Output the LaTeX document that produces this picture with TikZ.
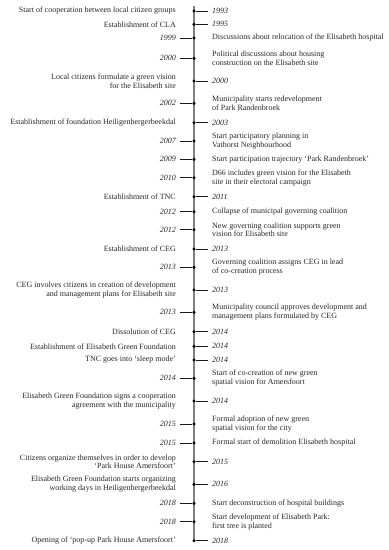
\documentclass[tikz,border=0pt]{standalone}
\usepackage{fontspec}
\setmainfont{Liberation Serif}
\usepackage{tikz}
\usetikzlibrary{arrows.meta, positioning}

% event with text on the left, year on the right
\newcommand{\evtleft}[4]{%
  \node[dot] (d#1) at (194,-#2) {};
  \coordinate (t#1) at (208,-#2);
  \draw[tick] (d#1) -- (t#1);
  \node[year, anchor=west] (yr#1) at (212,-#2) {#3};
  \node[event, anchor=east, align=right] (tx#1) at (176,-#2) {#4};
}
% event with year on the left, text on the right
\newcommand{\evtright}[4]{%
  \node[dot] (d#1) at (194,-#2) {};
  \coordinate (t#1) at (180,-#2);
  \draw[tick] (d#1) -- (t#1);
  \node[year, anchor=east] (yr#1) at (176,-#2) {#3};
  \node[event, anchor=west, align=left] (tx#1) at (212,-#2) {#4};
}

\begin{document}
\begin{tikzpicture}[
      x=1pt, y=1pt,
      axis/.style={line width=1.3pt, black!50},
      dot/.style={circle, fill=black, inner sep=0pt, minimum size=3.4pt},
      tick/.style={line width=0.9pt, black!90},
      event/.style={inner sep=0pt, font=\fontsize{8}{8.7}\selectfont, text=black!85},
      year/.style={inner sep=0pt, font=\fontsize{8}{8.7}\selectfont\itshape, text=black!85}
    ]
    \useasboundingbox (0,0) rectangle (389,-550);
    \coordinate (top) at (194,-6);
    \coordinate (bottom) at (194,-541);
    \draw[axis] (top) -- (bottom);
    \evtleft{1}{11}{1993}{Start of cooperation between local citizen groups}
    \evtleft{2}{24.3}{1995}{Establishment of CLA}
    \evtright{3}{38}{1999}{Discussions about relocation of the Elisabeth hospital}
    \evtright{4}{58.3}{2000}{Political discussions about housing\\construction on the Elisabeth site}
    \evtleft{5}{81}{2000}{Local citizens formulate a green vision\\for the Elisabeth site}
    \evtright{6}{103.3}{2002}{Municipality starts redevelopment\\of Park Randenbroek}
    \evtleft{7}{122.7}{2003}{Establishment of foundation Heiligenbergerbeekdal}
    \evtright{8}{141}{2007}{Start participatory planning in\\Vathorst Neighbourhood}
    \evtright{9}{159.3}{2009}{Start participation trajectory `Park Randenbroek'}
    \evtright{10}{177.7}{2010}{D66 includes green vision for the Elisabeth\\site in their electoral campaign}
    \evtleft{11}{196.7}{2011}{Establishment of TNC}
    \evtright{12}{211.7}{2012}{Collapse of municipal governing coalition}
    \evtright{13}{229.7}{2012}{New governing coalition supports green\\vision for Elisabeth site}
    \evtleft{14}{249}{2013}{Establishment of CEG}
    \evtright{15}{267.3}{2013}{Governing coalition assigns CEG in lead\\of co-creation process}
    \evtleft{16}{290}{2013}{CEG involves citizens in creation of development\\and management plans for Elisabeth site}
    \evtright{17}{312.3}{2013}{Municipality council approves development and\\management plans formulated by CEG}
    \evtleft{18}{331.7}{2014}{Dissolution of CEG}
    \evtleft{19}{346.3}{2014}{Establishment of Elisabeth Green Foundation}
    \evtleft{20}{360}{2014}{TNC goes into `sleep mode'}
    \evtright{21}{378.3}{2014}{Start of co-creation of new green\\spatial vision for Amersfoort}
    \evtleft{22}{401}{2014}{Elisabeth Green Foundation signs a cooperation\\agreement with the municipality}
    \evtright{23}{424}{2015}{Formal adoption of new green\\spatial vision for the city}
    \evtright{24}{443}{2015}{Formal start of demolition Elisabeth hospital}
    \evtleft{25}{461.7}{2015}{Citizens organize themselves in order to develop\\`Park House Amersfoort'}
    \evtleft{26}{484.3}{2016}{Elisabeth Green Foundation starts organizing\\working days in Heiligenbergerbeekdal}
    \evtright{27}{503.3}{2018}{Start deconstruction of hospital buildings}
    \evtright{28}{521.7}{2018}{Start development of Elisabeth Park:\\first tree is planted}
    \evtleft{29}{540.7}{2018}{Opening of `pop-up Park House Amersfoort'}
\end{tikzpicture}
\end{document}
